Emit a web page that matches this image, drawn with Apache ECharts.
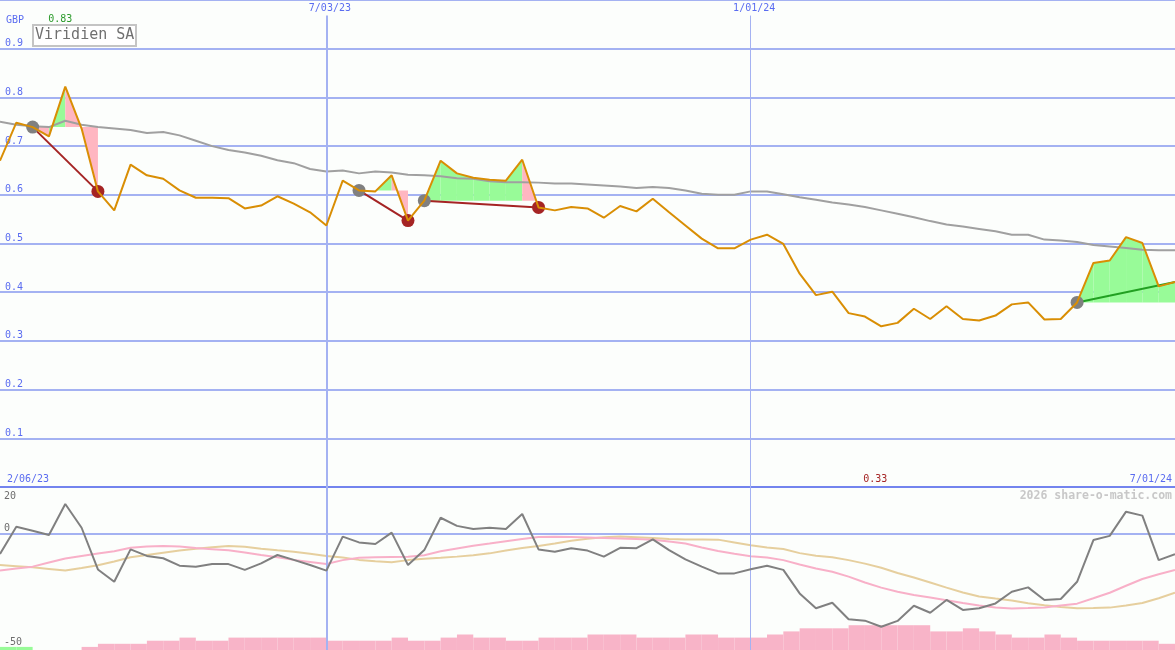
<!DOCTYPE html>
<html><head><meta charset="utf-8">
<script src="https://cdn.jsdelivr.net/npm/echarts@6/dist/echarts.min.js"></script>
<style>html,body{margin:0;padding:0;background:#fcfefc}#c{width:1175px;height:650px}</style>
</head><body><div id="c"></div>
<script>
// ---------------- data ----------------
const startDate = '2023-02-13';          // first weekly point (Monday)
const weekCount = 73;
const rangeStartLabel = '2/06/23';
const markedDates = ['7/03/23', '1/01/24'];
const markedWidths = [2, 1];
const titleText = 'Viridien SA';
const currency = 'GBP';
const creditText = '2026 share-o-matic.com';
const maxLabel = '0.83';
const minLabel = '0.33';
const lowerLabelsBottom = [0, -50];
const lowerLabelsTop = [20];

const price = [0.670,0.748,0.739,0.720,0.822,0.736,0.607,0.568,0.662,0.640,
  0.633,0.609,0.594,0.594,0.593,0.572,0.578,0.597,0.582,0.564,
  0.537,0.629,0.609,0.607,0.640,0.547,0.588,0.670,0.644,0.635,
  0.631,0.629,0.672,0.574,0.568,0.575,0.572,0.553,0.577,0.566,
  0.592,0.564,0.537,0.510,0.490,0.490,0.508,0.518,0.499,0.438,
  0.394,0.401,0.357,0.350,0.330,0.337,0.366,0.345,0.371,0.345,
  0.342,0.352,0.375,0.379,0.344,0.345,0.379,0.460,0.465,0.513,
  0.501,0.412,0.421];

const priceMA = [0.750,0.744,0.741,0.739,0.752,0.744,0.739,0.736,0.733,0.727,
  0.729,0.722,0.711,0.700,0.692,0.687,0.680,0.671,0.665,0.653,
  0.648,0.650,0.644,0.648,0.646,0.641,0.640,0.638,0.634,0.633,
  0.628,0.626,0.626,0.625,0.623,0.623,0.621,0.619,0.617,0.614,
  0.616,0.614,0.609,0.602,0.600,0.600,0.607,0.607,0.601,0.595,
  0.590,0.584,0.580,0.575,0.568,0.561,0.554,0.546,0.539,0.535,
  0.530,0.525,0.518,0.518,0.508,0.506,0.503,0.497,0.494,0.491,
  0.487,0.486,0.486];

const osc = [-8.8,2.9,1.2,-0.6,12.7,2.5,-15.4,-20.7,-6.8,-9.6,
  -10.6,-13.8,-14.2,-13.1,-13.1,-15.6,-12.8,-9.2,-11.3,-13.5,
  -15.9,-1.3,-3.8,-4.5,0.4,-13.5,-7.1,6.8,3.3,2.0,
  2.5,2.0,8.4,-6.8,-7.8,-6.3,-7.3,-9.9,-6.1,-6.3,
  -2.5,-7.1,-11.1,-14.2,-17.1,-17.1,-15.3,-13.8,-15.6,-25.7,
  -32.1,-29.7,-36.8,-37.4,-40.0,-37.5,-31.0,-34.0,-28.5,-32.8,
  -32.1,-30.0,-25.0,-23.1,-28.5,-28.1,-20.7,-2.8,-1.0,9.4,
  7.7,-11.4,-8.9];

const oscFast = [-15.9,-15.0,-14.2,-12.4,-10.7,-9.6,-8.6,-7.6,-6.1,-5.6,
  -5.3,-5.6,-6.2,-6.7,-7.2,-8.1,-9.2,-10.2,-11.3,-12.2,
  -13.1,-11.4,-10.4,-10.2,-10.1,-10.0,-9.3,-7.6,-6.4,-5.2,
  -4.3,-3.3,-2.3,-1.5,-1.4,-1.5,-1.7,-1.9,-2.1,-2.3,
  -2.7,-3.4,-4.3,-6.0,-7.5,-8.7,-9.7,-10.3,-11.4,-13.3,
  -15.0,-16.4,-18.5,-21.0,-23.2,-25.0,-26.4,-27.5,-28.6,-29.8,
  -30.9,-31.7,-32.2,-32.0,-31.7,-30.9,-30.1,-27.8,-25.4,-22.4,
  -19.5,-17.5,-15.6];

const oscSlow = [-13.5,-14.0,-14.5,-15.2,-15.9,-14.8,-13.6,-12.0,-10.2,-9.2,
  -8.2,-7.3,-6.5,-5.9,-5.3,-5.7,-6.5,-7.2,-7.8,-8.7,
  -9.6,-10.3,-11.3,-11.9,-12.3,-11.4,-10.8,-10.4,-9.9,-9.3,
  -8.5,-7.3,-6.2,-5.3,-4.3,-3.1,-2.2,-1.6,-1.3,-1.6,
  -1.9,-2.3,-2.5,-2.5,-2.6,-3.8,-5.0,-6.0,-6.6,-8.4,
  -9.5,-10.2,-11.4,-12.9,-14.7,-16.9,-18.9,-21.0,-23.2,-25.3,
  -27.0,-27.9,-28.7,-29.9,-30.8,-31.5,-32.1,-32.0,-31.8,-30.9,
  -29.8,-27.8,-25.4];

const volume = [1,1,0,0,0,1,2,2,2,3,
  3,4,3,3,4,4,4,4,4,4,
  3,3,3,3,4,3,3,4,5,4,
  4,3,3,4,4,4,5,5,5,4,
  4,4,5,5,4,4,4,5,6,7,
  7,7,8,8,8,8,8,6,6,7,
  6,5,4,4,5,4,3,3,3,3,
  3,2];
const volumeSide = volume.map((v, i) => i < 2 ? 'up' : 'down');

const tradeBuy = [2, 22, 26, 66];
const tradeSell = [6, 25, 33, null];

// ---------------- derived ----------------
const categories = [];
(function () {
  const d0 = new Date(startDate + 'T00:00:00Z');
  for (let i = 0; i < weekCount; i++) {
    const d = new Date(d0.getTime() + i * 7 * 864e5);
    categories.push((d.getUTCMonth() + 1) + '/' + String(d.getUTCDate()).padStart(2, '0') + '/' + String(d.getUTCFullYear()).slice(2));
  }
})();

const fillSegs = [];
tradeBuy.forEach((b, t) => {
  const e = tradeSell[t] == null ? weekCount - 1 : tradeSell[t];
  const lv = price[b];
  for (let i = b; i < e; i++) fillSegs.push([i, price[i], price[i + 1], lv, price[i + 1] >= lv ? 1 : 0]);
});

const MONO = 'DejaVu Sans Mono';
const BLUE_TXT = '#5a6cf0';
const GRID_BLUE = '#a4b2f2';
const SEP_BLUE = '#7384ee';
const GREEN_FILL = '#98fb98';
const PINK_FILL = '#ffb6c1';
const SELL_RED = '#a52424';
const LOW_TXT = '#6e6e6e';

const tradeLineSeries = tradeBuy.map((b, t) => {
  const open = tradeSell[t] == null;
  const e = open ? weekCount - 1 : tradeSell[t];
  return {
    type: 'line', xAxisIndex: 0, yAxisIndex: 0, z: 3, silent: true, symbol: 'none',
    data: [[categories[b], price[b]], [categories[e], price[e]]],
    lineStyle: { color: open ? '#22a022' : SELL_RED, width: 2 }
  };
});

const vLinesTop = markedDates.map((d, k) => [
  { coord: [d, 0], lineStyle: { width: markedWidths[k] } },
  { coord: [d, 0.968] }
]);
const vLinesBottom = markedDates.map((d, k) => ({ xAxis: d, lineStyle: { width: markedWidths[k] } }));

const chart = echarts.init(document.getElementById('c'), null, { renderer: 'canvas' });
chart.setOption({
  backgroundColor: '#fcfefc',
  animation: false,
  title: [
    { text: titleText, left: 33, top: 25, padding: [3, 2], borderColor: '#c4c4c4', borderWidth: 2, backgroundColor: '#ffffff',
      textStyle: { fontFamily: MONO, fontSize: 15, fontWeight: 'normal', color: '#707070' } },
    { text: creditText, right: 3, top: 490, padding: 0,
      textStyle: { fontFamily: MONO, fontSize: 11.5, fontWeight: 'bold', color: '#c8c8c8' } }
  ],
  grid: [
    { left: 0, right: 0, top: 0, height: 487 },
    { left: 0, right: 0, top: 487, height: 163 }
  ],
  xAxis: [
    { gridIndex: 0, type: 'category', position: 'top', data: categories, boundaryGap: false,
      axisLine: { show: false }, axisTick: { show: false }, splitLine: { show: false },
      axisLabel: { inside: true, margin: 3, interval: (i, v) => markedDates.includes(v),
        color: BLUE_TXT, fontFamily: MONO, fontSize: 10, padding: [0, 0, 0, 7] } },
    { gridIndex: 0, type: 'category', position: 'bottom', data: categories, boundaryGap: false,
      axisLine: { show: true, lineStyle: { color: SEP_BLUE, width: 2 } }, axisTick: { show: false }, splitLine: { show: false },
      axisLabel: { inside: true, margin: 3, interval: (i) => i === 0 || i === weekCount - 1,
        formatter: (v, i) => i === 0 ? rangeStartLabel : v,
        alignMinLabel: 'left', alignMaxLabel: 'right', padding: [0, 3, 0, 7],
        color: BLUE_TXT, fontFamily: MONO, fontSize: 10 } },
    { gridIndex: 1, type: 'category', data: categories, boundaryGap: false, show: false }
  ],
  yAxis: [
    { gridIndex: 0, type: 'value', min: 0, max: 1, interval: 0.1,
      axisLine: { show: false }, axisTick: { show: false },
      splitLine: { show: true, lineStyle: { color: GRID_BLUE, width: 2 } },
      axisLabel: { inside: true, margin: 5, verticalAlign: 'bottom', color: BLUE_TXT, fontFamily: MONO, fontSize: 10,
        formatter: v => (v > 0.05 && v < 0.95) ? v.toFixed(1) : '' },
      name: currency, nameLocation: 'end', nameGap: -20,
      nameTextStyle: { align: 'left', verticalAlign: 'middle', color: BLUE_TXT, fontFamily: MONO, fontSize: 10, padding: [0, 0, 0, 6] } },
    { gridIndex: 1, type: 'value', min: -50, max: 20, interval: 10,
      axisLine: { show: false }, axisTick: { show: false }, splitLine: { show: false },
      axisLabel: { inside: true, margin: 4, verticalAlign: 'bottom', color: LOW_TXT, fontFamily: MONO, fontSize: 10,
        formatter: v => lowerLabelsBottom.includes(v) ? (v < 0 ? '{lo|' + v + '}' : '{mid|' + v + '}') : '',
        rich: {
          lo: { color: LOW_TXT, fontFamily: MONO, fontSize: 10, padding: [0, 0, 3, 0] },
          mid: { color: LOW_TXT, fontFamily: MONO, fontSize: 10, padding: [0, 0, 0, 0] }
        } } },
    { gridIndex: 1, type: 'value', min: -50, max: 20, interval: 10, position: 'left',
      axisLine: { show: false }, axisTick: { show: false }, splitLine: { show: false },
      axisLabel: { inside: true, margin: 4, verticalAlign: 'top', color: LOW_TXT, fontFamily: MONO, fontSize: 10,
        padding: [4, 0, 0, 0],
        formatter: v => lowerLabelsTop.includes(v) ? String(v) : '' } },
    { gridIndex: 1, type: 'value', min: 0, max: 52.6, show: false, splitLine: { show: false } }
  ],
  series: [
    { type: 'line', xAxisIndex: 0, yAxisIndex: 0, z: 0, silent: true, symbol: 'none', data: [],
      markLine: { silent: true, symbol: ['none', 'none'], label: { show: false },
        lineStyle: { color: GRID_BLUE, type: 'solid' }, data: vLinesTop } },
    { type: 'custom', xAxisIndex: 0, yAxisIndex: 0, z: 1, silent: true, data: fillSegs,
      renderItem: (params, api) => {
        const i = api.value(0), a = api.value(1), b = api.value(2), lv = api.value(3), up = api.value(4);
        return { type: 'polygon',
          shape: { points: [api.coord([i, lv]), api.coord([i, a]), api.coord([i + 1, b]), api.coord([i + 1, lv])] },
          style: { fill: up ? GREEN_FILL : PINK_FILL } };
      } },
    { type: 'line', xAxisIndex: 0, yAxisIndex: 0, z: 2, silent: true, symbol: 'none', data: priceMA,
      lineStyle: { color: '#a0a0a0', width: 2 } },
    ...tradeLineSeries,
    { type: 'scatter', xAxisIndex: 0, yAxisIndex: 0, z: 4, silent: true, symbolSize: 13,
      data: tradeBuy.map(b => [categories[b], price[b]]), itemStyle: { color: '#808080', opacity: 1 } },
    { type: 'scatter', xAxisIndex: 0, yAxisIndex: 0, z: 4, silent: true, symbolSize: 13,
      data: tradeSell.filter(s => s != null).map(s => [categories[s], price[s]]), itemStyle: { color: SELL_RED, opacity: 1 } },
    { type: 'line', xAxisIndex: 0, yAxisIndex: 0, z: 5, silent: true, symbol: 'none', data: price,
      lineStyle: { color: '#d98e04', width: 2 },
      markPoint: { silent: true, symbol: 'rect', symbolSize: 1, itemStyle: { color: 'rgba(0,0,0,0)' },
        label: { show: true, position: 'inside', formatter: '{c}', fontFamily: MONO, fontSize: 10 },
        data: [
          { coord: [categories[price.indexOf(Math.max(...price))], 0.96], value: maxLabel, label: { color: '#2a9a2a', offset: [-5, 0] } },
          { coord: [categories[price.indexOf(Math.min(...price))], 0.016], value: minLabel, label: { color: '#a52424', offset: [-6, 0] } }
        ] } },
    { type: 'line', xAxisIndex: 2, yAxisIndex: 1, z: 0, silent: true, symbol: 'none', data: [],
      markLine: { silent: true, symbol: ['none', 'none'], label: { show: false },
        lineStyle: { color: GRID_BLUE, type: 'solid', width: 2 },
        data: [{ yAxis: 0 }, ...vLinesBottom] } },
    { type: 'custom', xAxisIndex: 2, yAxisIndex: 3, z: 3, silent: true,
      data: volume.map((v, i) => [i, v]),
      renderItem: (params, api) => {
        const i = api.value(0), v = api.value(1);
        const p0 = api.coord([i, v]), p1 = api.coord([i + 1, 0]);
        return { type: 'rect', shape: { x: p0[0], y: p0[1], width: p1[0] - p0[0], height: p1[1] - p0[1] },
          style: { fill: volumeSide[params.dataIndex] === 'up' ? GREEN_FILL : '#f8b4c8' } };
      } },
    { type: 'line', xAxisIndex: 2, yAxisIndex: 1, z: 4, silent: true, symbol: 'none', data: oscSlow,
      lineStyle: { color: '#e6cf9e', width: 2 } },
    { type: 'line', xAxisIndex: 2, yAxisIndex: 1, z: 4, silent: true, symbol: 'none', data: oscFast,
      lineStyle: { color: '#f8b0c8', width: 2 } },
    { type: 'line', xAxisIndex: 2, yAxisIndex: 1, z: 5, silent: true, symbol: 'none', data: osc,
      lineStyle: { color: '#808080', width: 2 } }
  ]
});
</script>
</body></html>
